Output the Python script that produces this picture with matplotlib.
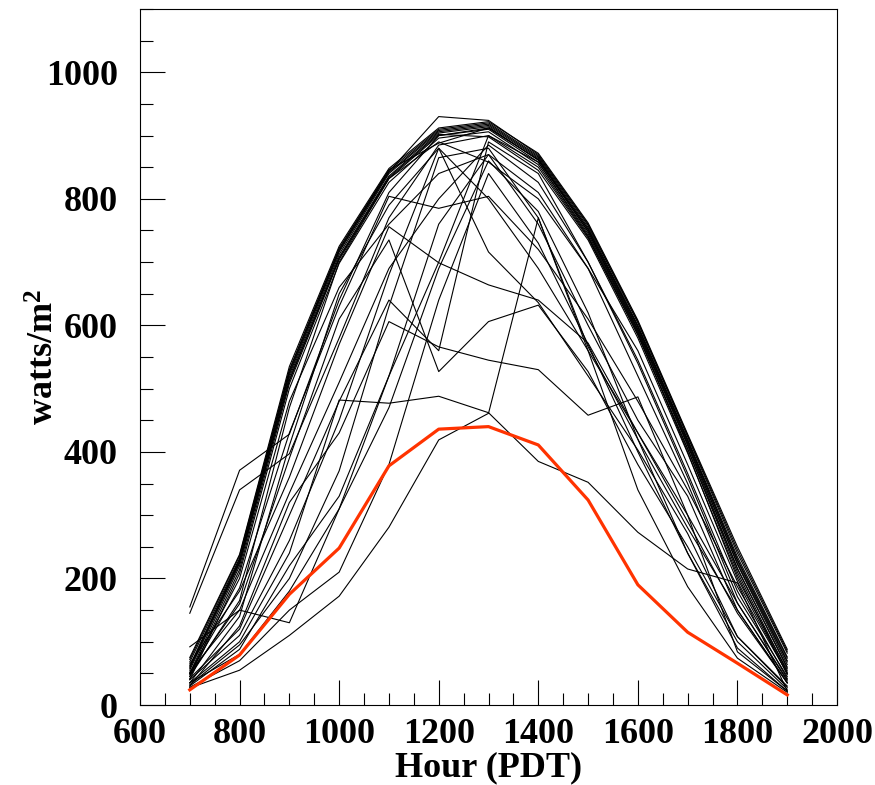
import matplotlib
matplotlib.use("Agg")
import matplotlib.pyplot as plt
from matplotlib.ticker import MultipleLocator

hours = [700, 800, 900, 1000, 1100, 1200, 1300, 1400, 1500, 1600, 1700, 1800, 1900]

# clear-sky days
c01 = [75, 238, 535, 725, 848, 912, 922, 872, 762, 608, 428, 250, 88]
c02 = [68, 232, 528, 720, 845, 910, 920, 868, 758, 604, 424, 240, 82]
c03 = [60, 228, 522, 716, 842, 908, 918, 866, 755, 600, 420, 234, 76]
c04 = [55, 224, 518, 712, 840, 906, 916, 864, 752, 597, 417, 228, 70]
c05 = [50, 220, 514, 708, 836, 904, 914, 861, 749, 594, 414, 222, 64]
c06 = [45, 214, 508, 704, 832, 900, 910, 858, 745, 590, 410, 216, 58]
c07 = [62, 230, 525, 718, 843, 930, 924, 870, 760, 606, 426, 245, 85]
c08 = [40, 208, 500, 698, 826, 896, 906, 854, 740, 585, 405, 210, 52]
c09 = [72, 236, 530, 722, 846, 888, 912, 862, 748, 592, 412, 224, 68]
c10 = [58, 226, 512, 706, 834, 902, 898, 845, 735, 580, 398, 205, 48]

# cloudy / partly cloudy days
d01 = [35, 100, 240, 482, 477, 488, 462, 385, 352, 273, 215, 193, 22]
d02 = [48, 160, 390, 610, 735, 527, 606, 632, 527, 380, 250, 108, 28]
d03 = [27, 55, 110, 172, 281, 419, 461, 770, 566, 420, 280, 150, 35]
d04 = [65, 180, 360, 570, 756, 699, 664, 640, 572, 430, 300, 161, 40]
d05 = [30, 125, 320, 430, 606, 566, 545, 530, 458, 487, 300, 84, 22]
d06 = [50, 185, 430, 630, 804, 785, 804, 720, 610, 480, 340, 187, 50]
d07 = [35, 140, 410, 650, 790, 880, 716, 636, 520, 403, 271, 108, 30]
d08 = [32, 95, 200, 370, 630, 865, 880, 770, 560, 340, 187, 74, 20]
d09 = [155, 371, 428, 640, 810, 900, 912, 862, 752, 598, 418, 230, 74]
d10 = [145, 340, 397, 580, 770, 885, 900, 850, 738, 585, 405, 215, 60]
d11 = [42, 120, 300, 480, 640, 560, 890, 840, 700, 540, 360, 171, 45]
d12 = [30, 88, 220, 330, 520, 700, 900, 858, 742, 588, 400, 200, 55]
d13 = [52, 150, 335, 510, 690, 800, 885, 826, 700, 545, 366, 180, 42]
d14 = [45, 165, 470, 700, 832, 890, 858, 800, 690, 520, 350, 161, 38]
d15 = [92, 150, 130, 310, 520, 760, 870, 810, 690, 560, 380, 195, 50]
d16 = [35, 80, 180, 310, 470, 690, 860, 780, 620, 420, 240, 100, 25]
d17 = [28, 70, 150, 210, 380, 640, 840, 730, 570, 400, 240, 90, 22]
d18 = [40, 110, 260, 450, 680, 880, 800, 690, 560, 430, 290, 145, 35]
d19 = [50, 200, 480, 660, 760, 840, 870, 760, 600, 450, 330, 150, 35]

# highlighted day
red_day = [24, 79, 175, 248, 378, 436, 440, 411, 324, 190, 115, 66, 16]

black_days = [c01, c02, c03, c04, c05, c06, c07, c08, c09, c10,
              d01, d02, d03, d04, d05, d06, d07, d08, d09, d10,
              d11, d12, d13, d14, d15, d16, d17, d18, d19]

plt.rcParams['font.family'] = ['Liberation Serif', 'DejaVu Serif']
plt.rcParams['font.weight'] = 'bold'
plt.rcParams['mathtext.fontset'] = 'custom'
plt.rcParams['mathtext.rm'] = 'Liberation Serif:bold'
plt.rcParams['mathtext.bf'] = 'Liberation Serif:bold'
plt.rcParams['mathtext.default'] = 'rm'

fig = plt.figure(figsize=(8.75, 7.85), dpi=100)
ax = fig.add_axes([0.16, 0.1019, 0.7966, 0.8866])

for d in black_days:
    ax.plot(hours, d, color='black', lw=0.8)
ax.plot(hours, red_day, color='#ff3300', lw=2.3)

ax.set_xlim(600, 2000)
ax.set_ylim(0, 1100)
ax.xaxis.set_major_locator(MultipleLocator(200))
ax.xaxis.set_minor_locator(MultipleLocator(50))
ax.yaxis.set_major_locator(MultipleLocator(200))
ax.yaxis.set_minor_locator(MultipleLocator(50))
ax.tick_params(which='both', direction='in', top=False, right=False, width=0.8)
ax.tick_params(which='major', length=18, labelsize=26)
ax.tick_params(which='minor', length=9)
ax.tick_params(axis='y', which='major', pad=16)
ax.tick_params(axis='x', which='major', pad=9)
for s in ax.spines.values():
    s.set_linewidth(0.8)
for lab in ax.get_xticklabels() + ax.get_yticklabels():
    lab.set_fontweight('bold')

ax.set_xlabel('Hour (PDT)', fontsize=26, fontweight='bold')
ax.set_ylabel('watts/m$^{2}$', fontsize=26, fontweight='bold')
ax.xaxis.set_label_coords(0.5, -0.066)
ax.yaxis.set_label_coords(-0.112, 0.5)

fig.savefig('out.png', dpi=100)
